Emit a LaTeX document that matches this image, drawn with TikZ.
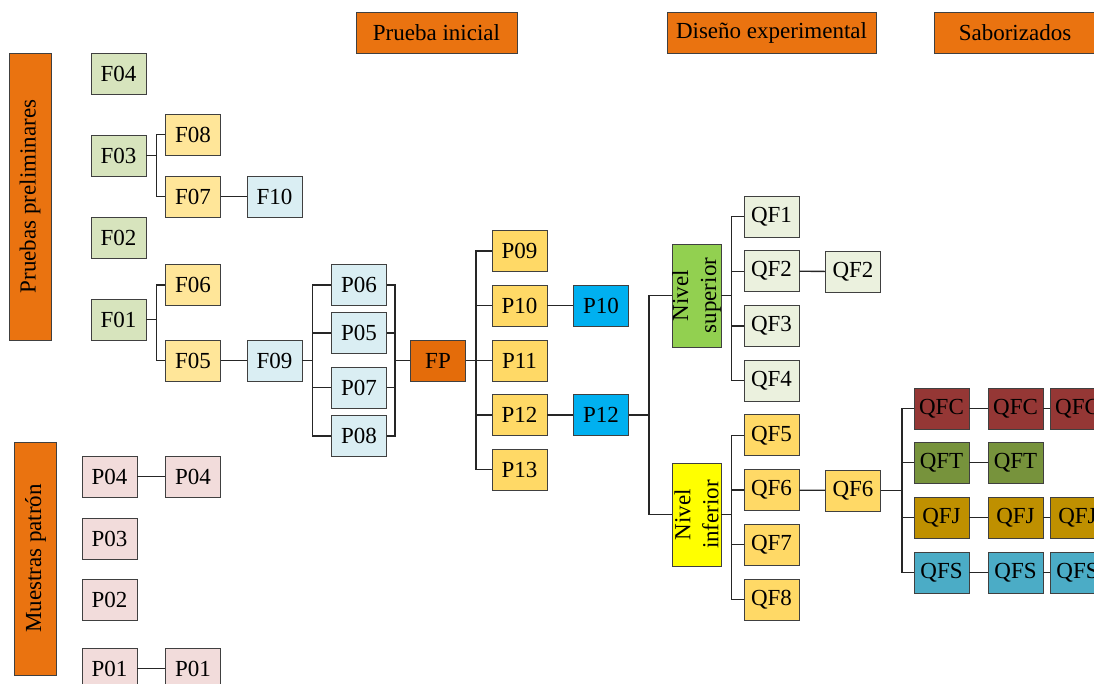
\documentclass[tikz,border=0pt]{standalone}
\usepackage{fontspec}
\setmainfont{Liberation Serif}
\usetikzlibrary{positioning}
\definecolor{MyOrange}{HTML}{EA7310}
\definecolor{FPOrange}{HTML}{E46C0A}
\definecolor{FGreen}{HTML}{D7E4BD}
\definecolor{FTan}{HTML}{FFE699}
\definecolor{FBlue}{HTML}{DAEEF3}
\definecolor{PPink}{HTML}{F2DCDB}
\definecolor{PGold}{HTML}{FFD966}
\definecolor{PCyan}{HTML}{00B0F0}
\definecolor{SupGreen}{HTML}{92D050}
\definecolor{InfYellow}{HTML}{FFFF00}
\definecolor{QLight}{HTML}{EBF1DE}
\definecolor{QRed}{HTML}{953735}
\definecolor{QOlive}{HTML}{77933C}
\definecolor{QMustard}{HTML}{BF9000}
\definecolor{QTeal}{HTML}{4BACC6}

\begin{document}
\begin{tikzpicture} [x=1pt,y=-1pt,
			every node/.style={draw=black!75,line width=0.8pt,font=\fontsize{23}{25}\selectfont,align=center,inner sep=0pt},
			sample/.style={minimum width=55,minimum height=41},
			stage/.style={fill=MyOrange,minimum height=41},
			group/.style={fill=MyOrange,rotate=90,minimum height=42},
			level/.style={rotate=90,minimum width=103,minimum height=49,font=\fontsize{23}{28}\selectfont},
			conn/.style={draw=black!85,line width=1.3pt}
		]
			\clip (0,0) rectangle (1094,683);
			\node at (436.5,32.5) [stage,minimum width=161] (nodeInicial) {Prueba inicial};
			\node at (771.5,32.5) [stage,minimum width=209] (nodeDiseno) {Diseño experimental};
			\node at (1015,32.5) [stage,minimum width=161] (nodeSabor) {Saborizados};
			\node at (30,196.5) [group,minimum width=287] (nodePrelim) {Pruebas preliminares};
			\node at (35.5,558.5) [group,minimum width=233] (nodePatron) {Muestras patrón};
			\foreach \n/\y in {F04/73.5,F03/155.5,F02/237.5,F01/319.5}
				\node at (118.5,\y) [sample,fill=FGreen] (node\n) {\n};
			\foreach \n/\y in {F08/134.5,F07/196.5,F06/285,F05/360.5}
				\node at (193,\y) [sample,fill=FTan] (node\n) {\n};
			\node at (274.5,196.5) [sample,fill=FBlue] (nodeF10) {F10};
			\node at (274.5,360.5) [sample,fill=FBlue] (nodeF09) {F09};
			\foreach \n/\y in {P04/476.5,P03/538.5,P02/599.5,P01/668.5}
				\node at (109.5,\y) [sample,fill=PPink] (node\n) {\n};
			\node at (193,476.5) [sample,fill=PPink] (nodeP04b) {P04};
			\node at (193,668.5) [sample,fill=PPink] (nodeP01b) {P01};
			\foreach \n/\y in {P06/285,P05/333,P07/387.5,P08/436}
				\node at (359,\y) [sample,fill=FBlue] (node\n) {\n};
			\node at (438,360.5) [sample,fill=FPOrange] (nodeFP) {FP};
			\foreach \n/\y in {P09/251,P10/305.5,P11/360.5,P12/415,P13/469.5}
				\node at (519.5,\y) [sample,fill=PGold] (node\n) {\n};
			\node at (601,305.5) [sample,fill=PCyan] (nodeP10b) {P10};
			\node at (601,415) [sample,fill=PCyan] (nodeP12b) {P12};
			\node at (696.5,295.5) [level,fill=SupGreen] (nodeSup) {Nivel\\superior};
			\node at (696.5,514.5) [level,fill=InfYellow] (nodeInf) {Nivel\\inferior};
			\foreach \i in {1,...,4}
				\node at (771.5,{216.5+54.7*(\i-1)}) [sample,fill=QLight] (nodeQF\i) {QF\i};
			\foreach \i in {5,...,8}
				\node at (771.5,{216.5+54.7*(\i-1)}) [sample,fill=PGold] (nodeQF\i) {QF\i};
			\node at (853,271.5) [sample,fill=QLight] (nodeQF2b) {QF2};
			\node at (853,490.5) [sample,fill=PGold] (nodeQF6b) {QF6};
			\foreach \f/\c/\y in {C/QRed/408.5,T/QOlive/462.5,J/QMustard/517.5,S/QTeal/572.5} {
				\node at (941.5,\y) [sample,fill=\c] (nodeQF\f1) {QF\f};
				\node at (1015.5,\y) [sample,fill=\c] (nodeQF\f2) {QF\f};
			}
			\foreach \f/\c/\y in {C/QRed/408.5,J/QMustard/517.5,S/QTeal/572.5}
				\node at (1077.5,\y) [sample,fill=\c] (nodeQF\f3) {QF\f};
			\draw[conn] (nodeF03.east) -- ++(10,0) coordinate (jF03);
			\draw[conn] (jF03) |- (nodeF08.west);
			\draw[conn] (jF03) |- (nodeF07.west);
			\draw[conn] (nodeF07) -- (nodeF10);
			\draw[conn] (nodeF01.east) -- ++(10,0) coordinate (jF01);
			\draw[conn] (jF01) |- (nodeF06.west);
			\draw[conn] (jF01) |- (nodeF05.west);
			\draw[conn] (nodeF05) -- (nodeF09);
			\draw[conn] (nodeP04) -- (nodeP04b);
			\draw[conn] (nodeP01) -- (nodeP01b);
			\draw[conn] (nodeF09.east) -- ++(10,0) coordinate (jF09);
			\draw[conn] (nodeFP.west) -- ++(-15,0) coordinate (jFP);
			\foreach \n in {P06,P05,P07,P08} {
				\draw[conn] (jF09) |- (node\n.west);
				\draw[conn] (jFP) |- (node\n.east);
			}
			\draw[conn] (nodeFP.east) -- ++(10,0) coordinate (jFPout);
			\foreach \n in {P09,P10,P11,P12,P13}
				\draw[conn] (jFPout) |- (node\n.west);
			\draw[conn] (nodeP10) -- (nodeP10b);
			\draw[conn] (nodeP12) -- (nodeP12b);
			\draw[conn] (nodeP12b.east) -- ++(20,0) coordinate (jP12);
			\draw[conn] (jP12) |- (nodeSup.north);
			\draw[conn] (jP12) |- (nodeInf.north);
			\draw[conn] (nodeSup.south) -- ++(10,0) coordinate (jSup);
			\draw[conn] (nodeInf.south) -- ++(10,0) coordinate (jInf);
			\foreach \i in {1,...,4}
				\draw[conn] (jSup) |- (nodeQF\i.west);
			\foreach \i in {5,...,8}
				\draw[conn] (jInf) |- (nodeQF\i.west);
			\draw[conn] (nodeQF2) -- (nodeQF2b);
			\draw[conn] (nodeQF6) -- (nodeQF6b);
			\draw[conn] (nodeQF6b.east) -- ++(21,0) coordinate (jQF6);
			\foreach \f in {C,T,J,S} {
				\draw[conn] (jQF6) |- (nodeQF\f1.west);
				\draw[conn] (nodeQF\f1) -- (nodeQF\f2);
			}
			\foreach \f in {C,J,S}
				\draw[conn] (nodeQF\f2) -- (nodeQF\f3);
		\end{tikzpicture}
\end{document}
